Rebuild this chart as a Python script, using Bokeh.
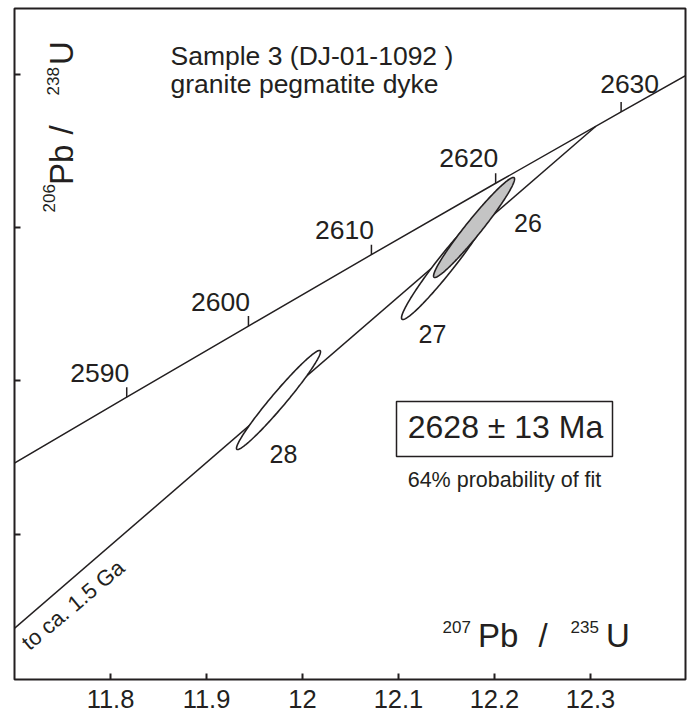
import numpy as np
from bokeh.plotting import figure
from bokeh.models import Label, FixedTicker, Range1d
from bokeh.core.properties import value
from bokeh.embed import file_html
from bokeh.resources import INLINE

# ---------------- data ----------------
# Concordia reference points: age (Ma), 207Pb/235U, 206Pb/238U
conc_age = [2580, 2590, 2600, 2610, 2620, 2630, 2640]
conc_x = [11.6913, 11.8169, 11.9437, 12.0718, 12.2012, 12.3319, 12.4638]
conc_y = [0.49216, 0.49447, 0.49679, 0.49912, 0.50145, 0.50378, 0.50611]
tick_ages = [2590, 2600, 2610, 2620, 2630]

# Discordia line (towards lower intercept ca. 1.5 Ga, upper intercept 2628 Ma)
disc_x = [11.65, 12.3056]
disc_y = [0.48557, 0.50331]

# Analyses (2-sigma error ellipses)
spot_id = ["28", "27", "26"]
spot_x = [11.9750, 12.1495, 12.1787]
spot_y = [0.494376, 0.498832, 0.500007]
spot_sx = [0.04375, 0.04635, 0.04219]
spot_sy = [0.001616, 0.001828, 0.001632]
spot_rho = [0.974, 0.969, 0.969]
spot_fill = ["white", "white", "#c4c4c4"]

x_ticks = [11.8, 11.9, 12.0, 12.1, 12.2, 12.3]
x_tick_labels = ["11.8", "11.9", "12", "12.1", "12.2", "12.3"]
y_ticks = [0.49, 0.495, 0.50, 0.505]

INK = "#231f20"
FONT = "Liberation Sans"

p = figure(frame_width=671, frame_height=671,
           x_range=Range1d(11.7, 12.39896), y_range=Range1d(0.485254, 0.507154),
           output_backend="svg", toolbar_location=None,
           min_border_left=14, min_border_right=2, min_border_top=8, min_border_bottom=40)
p.background_fill_color = "white"
p.border_fill_color = "white"
p.xgrid.visible = False
p.ygrid.visible = False
p.outline_line_color = INK
p.outline_line_width = 2

xa = p.xaxis[0]
xa.ticker = FixedTicker(ticks=x_ticks)
xa.major_label_overrides = dict(zip(x_ticks, x_tick_labels))
xa.major_label_text_font = FONT
xa.major_label_text_font_size = "25.5px"
xa.major_label_text_color = INK
xa.major_label_standoff = 10
xa.major_tick_in = 6
xa.major_tick_out = 0
xa.major_tick_line_width = 2
xa.major_tick_line_color = INK
xa.minor_tick_line_color = None
xa.axis_line_color = None

ya = p.yaxis[0]
ya.ticker = FixedTicker(ticks=y_ticks)
ya.major_label_text_font_size = "1px"
ya.major_label_text_color = None
ya.major_label_standoff = 0
ya.major_tick_in = 6
ya.major_tick_out = 0
ya.major_tick_line_width = 2
ya.major_tick_line_color = INK
ya.minor_tick_line_color = None
ya.axis_line_color = None

# concordia and discordia
p.line(conc_x, conc_y, line_color=INK, line_width=1.5)
p.line(disc_x, disc_y, line_color=INK, line_width=1.5)

# age ticks on concordia
tx = [conc_x[conc_age.index(a)] for a in tick_ages]
ty = [conc_y[conc_age.index(a)] for a in tick_ages]
p.ray(x=tx, y=ty, length=10, length_units="screen", angle=np.pi / 2,
      line_color=INK, line_width=1.5)
p.text(x=tx, y=ty, text=[str(a) for a in tick_ages],
       x_offset=[-27, -28, -27, -27, 8.5], y_offset=[-24.5, -24, -25, -25.5, -28],
       text_align="center", text_baseline="alphabetic",
       text_font=value(FONT), text_font_size="26.5px", text_color=INK)

# error ellipses
t = np.linspace(0, 2 * np.pi, 200)
exs, eys = [], []
for cx, cy, sx, sy, r in zip(spot_x, spot_y, spot_sx, spot_sy, spot_rho):
    exs.append(cx + sx * np.cos(t))
    eys.append(cy + sy * (r * np.cos(t) + np.sqrt(1 - r * r) * np.sin(t)))
p.patches(exs, eys, fill_color=spot_fill, line_color=INK, line_width=1.6)

# spot labels
spot_lx = [11.98021, 12.13542, 12.23490]
spot_ly = [0.492598, 0.496515, 0.500137]
p.text(x=spot_lx, y=spot_ly, text=spot_id, text_align="center", text_baseline="alphabetic",
       text_font=value(FONT), text_font_size="25px", text_color=INK)

# result box
p.rect(x=[12.21042], y=[0.49343], width=216, height=55, width_units="screen",
       height_units="screen", fill_color="white", line_color=INK, line_width=1.5)


def lab(text, x, y, size, angle=0.0, align="left"):
    p.add_layout(Label(x=x, y=y, text=text, angle=angle, text_align=align,
                       text_baseline="alphabetic", text_font=FONT,
                       text_font_size=size, text_color=INK))


lab("2628 ± 13 Ma", 12.21146, 0.493495, "32px", align="center")
lab("64% probability of fit", 12.21042, 0.491772, "21.5px", align="center")
lab("Sample 3 (DJ-01-1092 )", 11.8625, 0.505604, "26.5px")
lab("granite pegmatite dyke", 11.8625, 0.50469, "26.5px")
lab("to ca. 1.5 Ga", 11.71068, 0.486367, "22px", angle=0.698)

# x-axis title pieces
lab("207", 12.14583, 0.486955, "17px")
lab("Pb", 12.18281, 0.486687, "33px")
lab("/", 12.24583, 0.486687, "33px")
lab("235", 12.27917, 0.486955, "17px")
lab("U", 12.31615, 0.486687, "33px")

# y-axis title pieces (rotated)
h = np.pi / 2
lab("206", 11.73634, 0.500496, "17px", angle=h)
lab("Pb", 11.74854, 0.501390, "33px", angle=h)
lab("/", 11.74906, 0.503042, "33px", angle=h)
lab("238", 11.74051, 0.504315, "17px", angle=h)
lab("U", 11.74906, 0.505307, "33px", angle=h)

open("out.html", "w").write(file_html(p, INLINE))
